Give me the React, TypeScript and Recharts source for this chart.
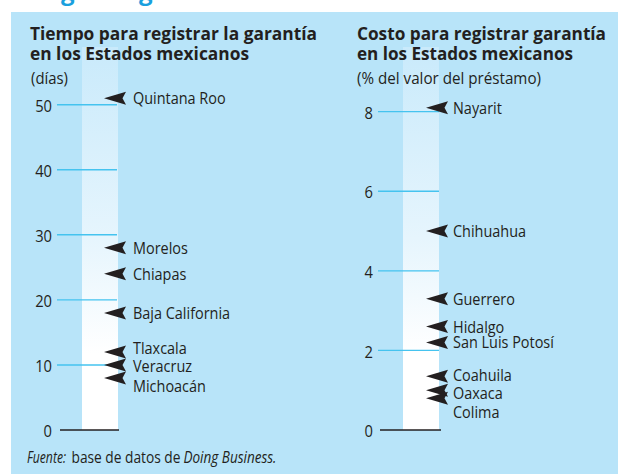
import React from 'react';
import { ScatterChart, Scatter, XAxis, YAxis, ReferenceLine, ReferenceArea } from 'recharts';

// ---------- data ----------
const daysStates = ['Quintana Roo', 'Morelos', 'Chiapas', 'Baja California', 'Tlaxcala', 'Veracruz', 'Michoacán'];
const daysValues = [51, 28, 24, 18, 12, 10, 8];
const daysTicks = [0, 10, 20, 30, 40, 50];

const costStates = ['Nayarit', 'Chihuahua', 'Guerrero', 'Hidalgo', 'San Luis Potosí', 'Coahuila', 'Oaxaca', 'Colima'];
const costValues = [8.1, 5.0, 3.3, 2.6, 2.2, 1.35, 1.0, 0.8];
const costTicks = [0, 2, 4, 6, 8];

// label nudges (layout, px) for crowded labels
const LABEL_NUDGE: Record<string, number> = {
  Tlaxcala: -4,
  Veracruz: 1,
  'Michoacán': 8,
  Coahuila: -1,
  Oaxaca: 3,
  Colima: 14,
};

const FONT = "'Open Sans', 'Noto Sans', sans-serif";
const INK = '#231f20';
const BG = '#b8e4f9';
const TICK_BLUE = '#45c3ef';

type PanelProps = {
  id: string;
  left: number;
  states: string[];
  values: number[];
  ticks: number[];
  yMax: number;
  yAxisWidth: number;
  xMax: number;
  column: [number, number];
  gridSeg: [number, number];
  zeroSeg: [number, number];
  arrowX: number;
  labelGap: number;
};

const CHART_W = 300;
const CHART_H = 474;

function Panel(p: PanelProps) {
  const data = p.states.map((name, i) => ({ name, x: p.arrowX, y: p.values[i] }));

  const renderTick = (props: any) => {
    const { x, y, payload } = props;
    return (
      <g transform={`translate(${x},${y + 7.2})`}>
        <text transform="scale(0.92,1)" textAnchor="end" fontFamily={FONT} fontSize={16} fill={INK}>
          {payload.value}
        </text>
      </g>
    );
  };

  const renderArrow = (props: any) => {
    const { cx, cy, payload } = props;
    if (cx == null || cy == null) return <g />;
    const nudge = LABEL_NUDGE[payload.name] || 0;
    const d = `M${cx},${cy} L${cx + 22},${cy - 6.5} L${cx + 18.5},${cy} L${cx + 22},${cy + 6.5} Z`;
    return (
      <g>
        <path d={d} fill={INK} />
        <text
          transform={`translate(${cx + p.labelGap},${cy + nudge + 6}) scale(0.87,1)`}
          fontFamily={FONT}
          fontSize={16.6}
          fill={INK}
        >
          {payload.name}
        </text>
      </g>
    );
  };

  return (
    <div style={{ position: 'absolute', left: p.left, top: 0 }}>
      <ScatterChart
        width={CHART_W}
        height={CHART_H}
        margin={{ top: 47, bottom: 44, left: 0, right: CHART_W - p.yAxisWidth - p.xMax }}
      >
        <defs>
          <linearGradient id={p.id} x1="0" y1="0" x2="0" y2="1">
            <stop offset="0" stopColor="#c9eafb" />
            <stop offset="0.5" stopColor="#e6f5fd" />
            <stop offset="0.8" stopColor="#ffffff" />
            <stop offset="1" stopColor="#ffffff" />
          </linearGradient>
        </defs>
        <XAxis type="number" dataKey="x" domain={[0, p.xMax]} hide />
        <YAxis
          type="number"
          dataKey="y"
          domain={[0, p.yMax]}
          ticks={p.ticks}
          width={p.yAxisWidth}
          axisLine={false}
          tickLine={false}
          tickSize={5}
          tickMargin={0}
          tick={renderTick}
          interval={0}
        />
        <ReferenceArea
          x1={p.column[0]}
          x2={p.column[1]}
          y1={0}
          y2={p.yMax}
          fill={`url(#${p.id})`}
          fillOpacity={1}
          stroke="none"
        />
        {p.ticks
          .filter((t) => t !== 0)
          .map((t) => (
            <ReferenceLine
              key={t}
              segment={[
                { x: p.gridSeg[0], y: t },
                { x: p.gridSeg[1], y: t },
              ]}
              stroke={TICK_BLUE}
              strokeWidth={1.4}
            />
          ))}
        <ReferenceLine
          segment={[
            { x: p.zeroSeg[0], y: 0 },
            { x: p.zeroSeg[1], y: 0 },
          ]}
          stroke={INK}
          strokeWidth={1.4}
        />
        <Scatter data={data} shape={renderArrow} isAnimationActive={false} />
      </ScatterChart>
    </div>
  );
}

export default function App() {
  return (
    <div
      style={{
        position: 'absolute',
        left: 0,
        top: 0,
        width: 618,
        height: 474,
        background: '#ffffff',
        overflow: 'hidden',
      }}
    >
      <div style={{ position: 'absolute', left: 11, top: 12, width: 607, height: 462, background: BG }} />
      <Panel
        id="gradDays"
        left={0}
        states={daysStates}
        values={daysValues}
        ticks={daysTicks}
        yMax={58.87}
        yAxisWidth={57}
        xMax={62}
        column={[25, 61]}
        gridSeg={[0, 60]}
        zeroSeg={[3, 62]}
        arrowX={47}
        labelGap={29}
      />
      <Panel
        id="gradCost"
        left={318}
        states={costStates}
        values={costValues}
        ticks={costTicks}
        yMax={9.625}
        yAxisWidth={60}
        xMax={63}
        column={[25, 61]}
        gridSeg={[0, 61]}
        zeroSeg={[2, 63]}
        arrowX={48}
        labelGap={27}
      />
      <svg
        width={618}
        height={474}
        style={{ position: 'absolute', left: 0, top: 0, pointerEvents: 'none' }}
      >
        <g fontFamily={FONT} fill="#1aa0de" fontWeight={700} fontSize={24}>
          <text x={61} y={0}>g</text>
          <text x={139} y={0}>g</text>
        </g>
        <g fontFamily={FONT} fill={INK}>
          <text x={30} y={40} fontSize={18.5} fontWeight={700} textLength={287} lengthAdjust="spacingAndGlyphs">
            Tiempo para registrar la garantía
          </text>
          <text x={30} y={60} fontSize={18.5} fontWeight={700} textLength={219} lengthAdjust="spacingAndGlyphs">
            en los Estados mexicanos
          </text>
          <text x={31} y={84} fontSize={16} textLength={37} lengthAdjust="spacingAndGlyphs">
            (días)
          </text>
          <text x={357} y={40} fontSize={18.5} fontWeight={700} textLength={249} lengthAdjust="spacingAndGlyphs">
            Costo para registrar garantía
          </text>
          <text x={357} y={60} fontSize={18.5} fontWeight={700} textLength={216} lengthAdjust="spacingAndGlyphs">
            en los Estados mexicanos
          </text>
          <text x={357} y={84} fontSize={16} textLength={184} lengthAdjust="spacingAndGlyphs">
            (% del valor del préstamo)
          </text>
          <text x={27} y={463} fontSize={15.5} fontStyle="italic" textLength={39} lengthAdjust="spacingAndGlyphs">
            Fuente:
          </text>
          <text x={71.5} y={463} fontSize={15.5} textLength={109} lengthAdjust="spacingAndGlyphs">
            base de datos de
          </text>
          <text x={183.5} y={463} fontSize={15.5} fontStyle="italic" textLength={93} lengthAdjust="spacingAndGlyphs">
            Doing Business.
          </text>
        </g>
      </svg>
    </div>
  );
}
